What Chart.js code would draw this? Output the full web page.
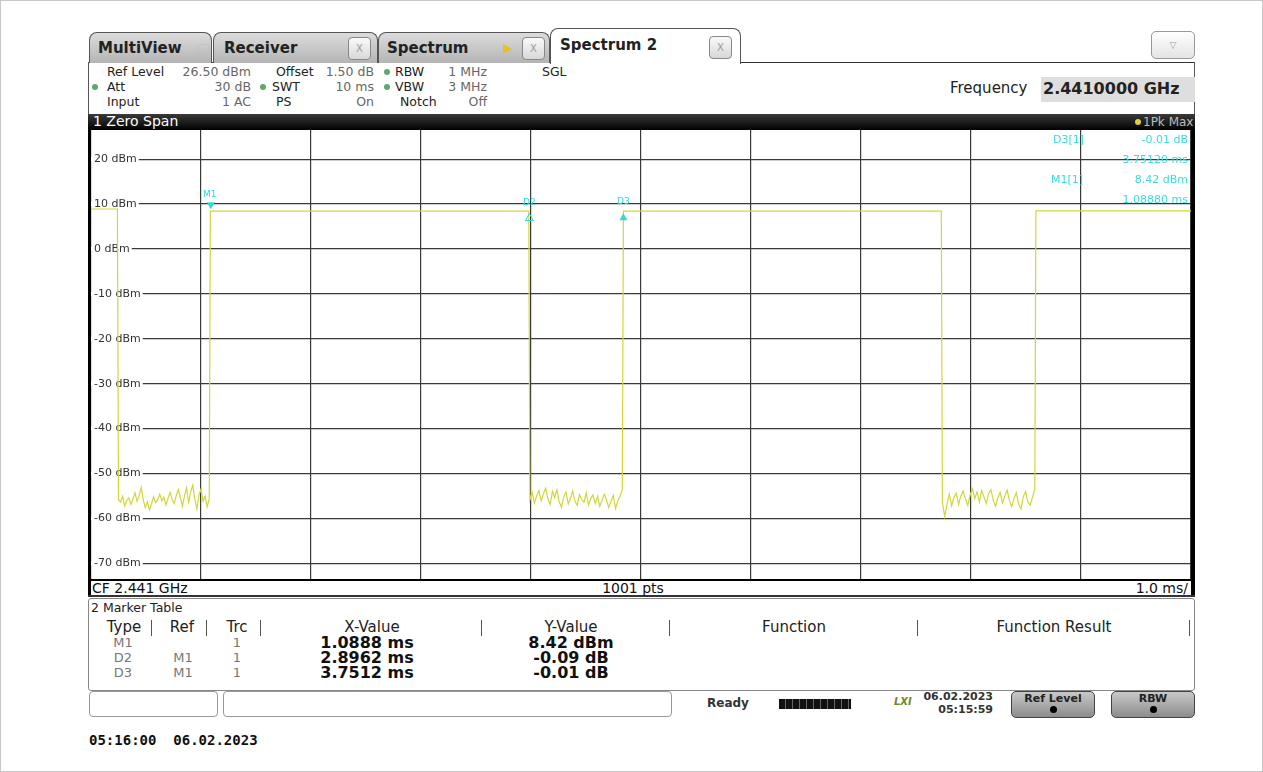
<!DOCTYPE html>
<html>
<head>
<meta charset="utf-8">
<script src="https://cdn.jsdelivr.net/npm/chart.js@4"></script>
<style>
  body { margin:0; background:#fff; font-family:"DejaVu Sans", sans-serif; }
  #page { position:relative; width:1261px; height:770px; border:1px solid #c8c8c8; overflow:hidden; }
  .abs { position:absolute; white-space:nowrap; }
  .tab { position:absolute; top:31px; height:30px; border:1px solid #555; border-bottom:none;
         border-radius:8px 8px 0 0; background:linear-gradient(#dcdcdc,#b4b4b4);
         font:bold 15px "DejaVu Sans", sans-serif; color:#222; }
  .tab.active { top:27px; height:35px; background:#fff; z-index:2; }
  .tab span.t { position:absolute; top:6px; }
  .xbox { position:absolute; top:4px; width:21px; height:21px; border:1px solid #888; border-radius:4px;
          background:linear-gradient(#fafafa,#d8d8d8); color:#999; font:10px "DejaVu Sans"; text-align:center; line-height:21px; }
  .set { position:absolute; font:12.5px "DejaVu Sans", sans-serif; color:#222; white-space:nowrap; }
  .val { color:#666; }
  .dot { position:absolute; width:6px; height:6px; border-radius:3px; background:#5fa86a; }
  .mk { position:absolute; font:11px "DejaVu Sans", sans-serif; color:#3cdcdc; white-space:nowrap; }
  .th { position:absolute; top:617px; font:15px "DejaVu Sans", sans-serif; color:#222; white-space:nowrap; transform:translateX(-50%); }
  .sep { position:absolute; top:619px; width:1px; height:16px; background:#555; }
  .td { position:absolute; font:13px "DejaVu Sans", sans-serif; color:#777; white-space:nowrap; transform:translateX(-50%); }
  .tb { position:absolute; font:bold 16px "DejaVu Sans", sans-serif; color:#111; white-space:nowrap; transform:translateX(-50%); line-height:16px; }
  .btn { position:absolute; top:690px; height:25px; border:1px solid #444; border-radius:5px;
         background:linear-gradient(#c8c8c8,#8c8c8c); font:bold 11px "DejaVu Sans"; color:#222; text-align:center; }
</style>
</head>
<body>
<div id="page">
  <!-- tab row -->
  <div class="abs" style="left:87px;top:61px;width:1107px;height:1px;background:#333;"></div>
  <div class="tab" style="left:88px;width:121px;"><span class="t" style="left:8px;">MultiView</span>
    <span class="abs" style="left:108px;top:11px;width:9px;height:9px;border:1px dotted #bbb;"></span></div>
  <div class="tab" style="left:212px;width:163px;"><span class="t" style="left:10px;">Receiver</span><div class="xbox" style="left:134px;">X</div></div>
  <div class="tab" style="left:377px;width:170px;"><span class="t" style="left:8px;">Spectrum</span>
    <span class="abs" style="left:124px;top:11px;width:0;height:0;border-top:5px solid transparent;border-bottom:5px solid transparent;border-left:9px solid #e8c020;"></span>
    <div class="xbox" style="left:143px;">X</div></div>
  <div class="tab active" style="left:549px;width:189px;"><span class="t" style="left:9px;top:7px;">Spectrum 2</span><div class="xbox" style="left:158px;top:7px;">X</div></div>
  <div class="abs" style="left:1150px;top:30px;width:42px;height:26px;border:1px solid #999;border-radius:5px;background:linear-gradient(#fff,#e4e4e4);color:#999;font:9px 'DejaVu Sans';text-align:center;line-height:26px;">▽</div>
  <div class="abs" style="left:87px;top:61px;width:1px;height:53px;background:#555;"></div>
  <div class="abs" style="left:1193px;top:61px;width:1px;height:53px;background:#555;"></div>

  <!-- settings -->
  <div class="set" style="left:106px;top:63px;">Ref Level</div>
  <div class="set val" style="right:1011px;top:63px;">26.50 dBm</div>
  <div class="set" style="left:275px;top:63px;">Offset</div>
  <div class="set val" style="right:888px;top:63px;">1.50 dB</div>
  <div class="dot" style="left:383px;top:68px;"></div>
  <div class="set" style="left:394px;top:63px;">RBW</div>
  <div class="set val" style="right:775px;top:63px;">1 MHz</div>
  <div class="set" style="left:541px;top:63px;">SGL</div>

  <div class="dot" style="left:91px;top:83px;"></div>
  <div class="set" style="left:106px;top:78px;">Att</div>
  <div class="set val" style="right:1011px;top:78px;">30 dB</div>
  <div class="dot" style="left:259px;top:83px;"></div>
  <div class="set" style="left:271px;top:78px;">SWT</div>
  <div class="set val" style="right:888px;top:78px;">10 ms</div>
  <div class="dot" style="left:383px;top:83px;"></div>
  <div class="set" style="left:394px;top:78px;">VBW</div>
  <div class="set val" style="right:775px;top:78px;">3 MHz</div>

  <div class="set" style="left:106px;top:93px;">Input</div>
  <div class="set val" style="right:1011px;top:93px;">1 AC</div>
  <div class="set" style="left:275px;top:93px;">PS</div>
  <div class="set val" style="right:888px;top:93px;">On</div>
  <div class="set" style="left:399px;top:93px;">Notch</div>
  <div class="set val" style="right:775px;top:93px;">Off</div>

  <div class="abs" style="left:949px;top:78px;font:15px 'DejaVu Sans';color:#222;">Frequency</div>
  <div class="abs" style="left:1040px;top:76px;width:154px;height:25px;background:#dedede;"></div>
  <div class="abs" style="left:1042px;top:78px;font:bold 16px 'DejaVu Sans';color:#222;">2.4410000 GHz</div>

  <!-- plot frame -->
  <div class="abs" style="left:87px;top:113px;width:1107px;height:16px;background:linear-gradient(#3a3a3a,#000);"></div>
  <div class="abs" style="left:92px;top:112px;font:14px 'DejaVu Sans';color:#fff;">1 Zero Span</div>
  <div class="abs" style="left:1134px;top:118px;width:6px;height:6px;border-radius:3px;background:#e0d040;"></div>
  <div class="abs" style="left:1142px;top:114px;font:12px 'DejaVu Sans';color:#bbb;">1Pk Max</div>
  <div class="abs" style="left:87px;top:129px;width:3px;height:466px;background:#000;"></div>
  <div class="abs" style="left:1190px;top:129px;width:4px;height:466px;background:#000;"></div>
  <canvas id="c" class="abs" style="left:90px;top:129px;" width="1100" height="449"></canvas>
  <div class="abs" style="left:87px;top:578px;width:1107px;height:2px;background:#000;"></div>
  <div class="abs" style="left:87px;top:594px;width:1107px;height:2px;background:#333;"></div>
  <div class="abs" style="left:91px;top:579px;font:14px 'DejaVu Sans';color:#111;">CF 2.441 GHz</div>
  <div class="abs" style="left:632px;top:579px;font:14px 'DejaVu Sans';color:#111;transform:translateX(-50%);">1001 pts</div>
  <div class="abs" style="right:74px;top:579px;font:14px 'DejaVu Sans';color:#111;">1.0 ms/</div>

  <!-- marker readout -->
  <div class="mk" style="left:1052px;top:132px;">D3[1]</div>
  <div class="mk" style="right:74px;top:132px;">-0.01 dB</div>
  <div class="mk" style="right:74px;top:152px;">3.75120 ms</div>
  <div class="mk" style="left:1050px;top:172px;">M1[1]</div>
  <div class="mk" style="right:74px;top:172px;">8.42 dBm</div>
  <div class="mk" style="right:74px;top:192px;">1.08880 ms</div>

  <!-- marker table -->
  <div class="abs" style="left:87px;top:597px;width:1105px;height:91px;border:1px solid #888;border-radius:3px;"></div>
  <div class="abs" style="left:90px;top:599px;font:12.5px 'DejaVu Sans';color:#222;">2 Marker Table</div>
  <div class="th" style="left:123px;">Type</div><div class="sep" style="left:150px;"></div>
  <div class="th" style="left:181px;">Ref</div><div class="sep" style="left:205px;"></div>
  <div class="th" style="left:236px;">Trc</div><div class="sep" style="left:259px;"></div>
  <div class="th" style="left:371px;">X-Value</div><div class="sep" style="left:480px;"></div>
  <div class="th" style="left:570px;">Y-Value</div><div class="sep" style="left:668px;"></div>
  <div class="th" style="left:793px;">Function</div><div class="sep" style="left:916px;"></div>
  <div class="th" style="left:1053px;">Function Result</div><div class="sep" style="left:1188px;"></div>

  <div class="td" style="left:122px;top:634px;">M1</div>
  <div class="td" style="left:236px;top:634px;">1</div>
  <div class="tb" style="left:366px;top:634px;">1.0888 ms</div>
  <div class="tb" style="left:570px;top:634px;">8.42 dBm</div>
  <div class="td" style="left:122px;top:649px;">D2</div>
  <div class="td" style="left:182px;top:649px;">M1</div>
  <div class="td" style="left:236px;top:649px;">1</div>
  <div class="tb" style="left:366px;top:649px;">2.8962 ms</div>
  <div class="tb" style="left:570px;top:649px;">-0.09 dB</div>
  <div class="td" style="left:122px;top:664px;">D3</div>
  <div class="td" style="left:182px;top:664px;">M1</div>
  <div class="td" style="left:236px;top:664px;">1</div>
  <div class="tb" style="left:366px;top:664px;">3.7512 ms</div>
  <div class="tb" style="left:570px;top:664px;">-0.01 dB</div>

  <!-- status bar -->
  <div class="abs" style="left:88px;top:690px;width:127px;height:24px;border:1px solid #999;border-radius:4px;"></div>
  <div class="abs" style="left:222px;top:690px;width:447px;height:24px;border:1px solid #999;border-radius:4px;"></div>
  <div class="abs" style="left:706px;top:695px;font:bold 12px 'DejaVu Sans';color:#333;">Ready</div>
  <div class="abs" style="left:778px;top:698px;width:72px;height:10px;background:repeating-linear-gradient(90deg,#111 0 6px,#666 6px 7px);"></div>
  <div class="abs" style="left:893px;top:695px;font:bold italic 10px 'DejaVu Sans';color:#6a8a2a;">LXI</div>
  <div class="abs" style="right:269px;top:689px;font:bold 11px 'DejaVu Sans';color:#333;text-align:right;line-height:13px;">06.02.2023<br>05:15:59</div>
  <div class="btn" style="left:1010px;width:82px;">Ref Level<div style="width:7px;height:7px;border-radius:4px;background:#000;margin:1px auto 0;"></div></div>
  <div class="btn" style="left:1110px;width:82px;">RBW<div style="width:7px;height:7px;border-radius:4px;background:#000;margin:1px auto 0;"></div></div>

  <div class="abs" style="left:88px;top:731px;font:bold 14px 'DejaVu Sans Mono';color:#111;white-space:pre;">05:16:00  06.02.2023</div>
</div>

<script>
// time axis in ms, level in dBm
const timeMin = 0;
const timeMax = 10;
const levelMin = -73.5;
const levelMax = 26.5;
const levelTicks = [20, 10, 0, -10, -20, -30, -40, -50, -60, -70];

// burst-on parts of trace 1 (start/end time, level)
const highStart = [0, 1.085, 4.84, 8.59];
const highEnd   = [0.24, 3.98, 7.73, 10];
const highLevel = [8.9, 8.42, 8.41, 8.5];

// burst-off parts: noise floor
const noiseStart = [0.25, 3.99, 7.74];
const noiseEnd   = [1.075, 4.83, 8.58];
const noise1 = [-55.8, -56.4, -55.1, -57.2, -56.0, -55.4, -56.9, -55.7, -54.3, -56.2, -55.0, -53.1, -55.9, -57.6,
  -56.3, -58.1, -56.8, -55.2, -56.5, -55.9, -54.6, -56.1, -55.3, -57.0, -55.6, -54.2, -55.8, -56.7, -54.9, -53.6,
  -55.4, -57.3, -55.0, -53.2, -56.4, -54.1, -52.6, -55.7, -57.9, -54.8, -53.5, -56.2, -55.1, -57.4, -55.6];
const noise2 = [-55.9, -54.2, -56.6, -55.0, -53.8, -56.1, -54.5, -53.3, -55.7, -56.9, -54.0, -55.4, -53.6, -56.3,
  -57.5, -55.2, -54.1, -56.8, -55.5, -53.9, -56.2, -57.1, -54.7, -55.8, -56.4, -54.3, -57.0, -55.6, -54.8, -56.7,
  -55.1, -57.3, -56.0, -54.6, -55.9, -57.6, -56.2, -54.9, -57.8, -56.1, -55.0, -53.7];
const noise3 = [-56.5, -59.6, -56.8, -54.6, -57.2, -55.3, -54.4, -56.9, -55.0, -53.9, -55.7, -57.1, -54.8, -53.4,
  -55.6, -54.1, -56.3, -53.8, -55.2, -56.7, -54.5, -53.6, -55.9, -57.3, -55.4, -54.2, -56.6, -55.1, -53.7, -56.0,
  -57.4, -55.5, -54.3, -56.8, -57.9, -55.2, -54.0, -56.4, -57.0, -55.3, -53.5];
const noiseSegs = [noise1, noise2, noise3];

// markers M1, D2, D3
const markerNames = ['M1', 'D2', 'D3'];
const markerTimes = [1.0888, 3.985, 4.84];
const markerLevels = [8.42, 8.33, 8.41];

const trace = [];
for (let i = 0; i < highStart.length; i++) {
  trace.push({x: highStart[i], y: highLevel[i]});
  trace.push({x: highEnd[i], y: highLevel[i]});
  if (i < noiseSegs.length) {
    const seg = noiseSegs[i];
    const dt = (noiseEnd[i] - noiseStart[i]) / (seg.length - 1);
    seg.forEach((v, j) => trace.push({x: noiseStart[i] + j * dt, y: v}));
  }
}

const levelLabels = {
  id: 'levelLabels',
  beforeDatasetsDraw(chart) {
    const ctx = chart.ctx, y = chart.scales.y, left = chart.chartArea.left;
    ctx.save();
    ctx.font = '11px "DejaVu Sans"';
    ctx.textBaseline = 'middle';
    levelTicks.forEach(v => {
      const py = y.getPixelForValue(v);
      const txt = v + ' dBm';
      const w = ctx.measureText(txt).width;
      ctx.fillStyle = '#fff';
      ctx.fillRect(left, py - 2, w + 5, 4);
      ctx.fillStyle = '#333';
      ctx.fillText(txt, left + 3, py);
    });
    ctx.restore();
  }
};

const markers = {
  id: 'markers',
  afterDatasetsDraw(chart) {
    const ctx = chart.ctx, xs = chart.scales.x, ys = chart.scales.y;
    ctx.save();
    ctx.fillStyle = '#30d8d8';
    ctx.strokeStyle = '#30d8d8';
    ctx.font = '9px "DejaVu Sans"';
    ctx.textAlign = 'center';
    markerNames.forEach((name, i) => {
      const px = xs.getPixelForValue(markerTimes[i]);
      const py = ys.getPixelForValue(markerLevels[i]);
      ctx.beginPath();
      if (i === 0) {
        ctx.moveTo(px - 4, py - 9); ctx.lineTo(px + 4, py - 9); ctx.lineTo(px, py - 2);
        ctx.fill();
        ctx.fillText(name, px - 1, py - 14);
      } else {
        ctx.moveTo(px - 4, py + 9); ctx.lineTo(px + 4, py + 9); ctx.lineTo(px, py + 2);
        ctx.closePath();
        if (i === 2) ctx.fill(); else ctx.stroke();
        ctx.fillText(name, px, py - 7);
      }
    });
    ctx.restore();
  }
};

new Chart(document.getElementById('c'), {
  type: 'line',
  data: {
    datasets: [{
      label: 'Trace 1',
      data: trace,
      borderColor: '#d2d63a',
      borderWidth: 1.2,
      pointRadius: 0,
      tension: 0,
      fill: false
    }]
  },
  options: {
    responsive: false,
    animation: false,
    devicePixelRatio: 1,
    layout: { padding: 0 },
    plugins: { legend: { display: false }, tooltip: { enabled: false } },
    scales: {
      x: {
        type: 'linear', min: timeMin, max: timeMax,
        ticks: { display: false, stepSize: 1 },
        grid: { color: '#3a3a3a', lineWidth: 1.2, drawTicks: false },
        border: { display: false }
      },
      y: {
        type: 'linear', min: levelMin, max: levelMax,
        afterBuildTicks: s => { s.ticks = levelTicks.map(v => ({value: v})); },
        ticks: { display: false },
        grid: { color: '#3a3a3a', lineWidth: 1.2, drawTicks: false },
        border: { display: false }
      }
    }
  },
  plugins: [levelLabels, markers]
});
</script>
</body>
</html>
